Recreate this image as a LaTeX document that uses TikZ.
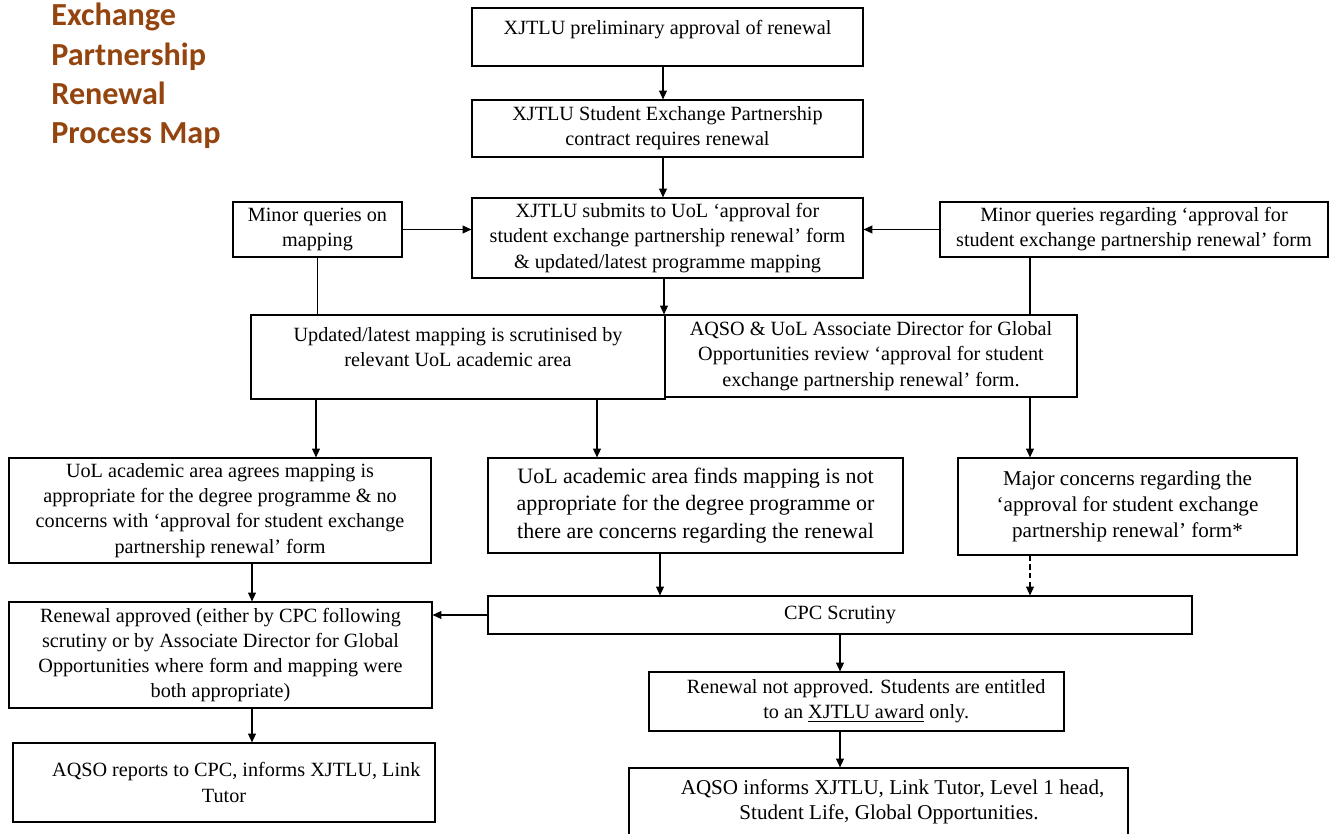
\documentclass[tikz,border=0pt]{standalone}
\usepackage{fontspec}
\setmainfont{Liberation Serif}
\newfontfamily\titlefont{Carlito}
\usetikzlibrary{arrows.meta}
\definecolor{titlebrown}{HTML}{94450F}

\begin{document}
\begin{tikzpicture}[x=0.02cm, y=-0.02cm,
    box/.style={draw, line width=0.7pt, align=center, inner sep=2pt,
        font=\fontsize{11.5}{14.3}\selectfont},
    arr/.style={-{Triangle[length=5pt, width=4.5pt]}, line width=0.6pt}]

    % Page frame (pixel units, y going down)
    \useasboundingbox (0,0) rectangle (1338,834);
    \def\padb{\rule[-11pt]{0pt}{11pt}}

    % Title
    \node[anchor=north west, inner sep=0, align=left, text=titlebrown,
        font=\titlefont\bfseries\fontsize{18.3}{22.4}\selectfont] (title) at (51,3)
        {Exchange\\ Partnership\\ Renewal\\ Process Map};

    % Top column
    \node[box, minimum width=7.82cm, minimum height=1.16cm] (prelim) at (667.5,37)
        {XJTLU preliminary approval of renewal\padb};
    \node[box, minimum width=7.82cm, minimum height=1.14cm] (contract) at (667.5,128.5)
        {XJTLU Student Exchange Partnership\\ contract requires renewal};
    \node[box, minimum width=7.82cm, minimum height=1.6cm] (submit) at (667.5,238)
        {XJTLU submits to UoL `approval for\\ student exchange partnership renewal' form\\ \& updated/latest programme mapping};

    % Queries
    \node[box, minimum width=3.38cm, minimum height=1.1cm] (minormap) at (317.5,229.5)
        {Minor queries on\\ mapping};
    \node[box, minimum width=7.76cm, minimum height=1.1cm] (minorform) at (1134,229.5)
        {Minor queries regarding `approval for\\ student exchange partnership renewal' form};

    % Scrutiny and review
    \node[box, minimum width=8.28cm, minimum height=1.68cm] (scrut) at (458,357)
        {Updated/latest mapping is scrutinised by\\ relevant UoL academic area\padb};
    \node[box, minimum width=8.24cm, minimum height=1.64cm] (review) at (871,356)
        {AQSO \& UoL Associate Director for Global\\ Opportunities review `approval for student\\ exchange partnership renewal' form.};

    % Outcomes
    \node[box, minimum width=8.44cm, minimum height=2.1cm] (agree) at (220,510.5)
        {UoL academic area agrees mapping is\\ appropriate for the degree programme \& no\\ concerns with `approval for student exchange\\ partnership renewal' form};
    \node[box, minimum width=8.3cm, minimum height=1.9cm,
        font=\fontsize{12.5}{15.6}\selectfont] (notappr) at (695.5,505.5)
        {UoL academic area finds mapping is not\\ appropriate for the degree programme or\\ there are concerns regarding the renewal};
    \node[box, minimum width=6.78cm, minimum height=1.94cm,
        font=\fontsize{12}{14.8}\selectfont] (major) at (1127.5,506.5)
        {Major concerns regarding the\\ `approval for student exchange\\ partnership renewal' form*};

    \node[box, minimum width=14.08cm, minimum height=0.76cm] (cpc) at (840,615)
        {CPC Scrutiny};
    \node[box, minimum width=8.46cm, minimum height=2.12cm] (approved) at (220.5,655)
        {Renewal approved (either by CPC following\\ scrutiny or by Associate Director for Global\\ Opportunities where form and mapping were\\ both appropriate)};
    \node[box, minimum width=8.3cm, minimum height=1.18cm] (notapproved) at (856.5,701.5)
        {\hspace*{11pt}Renewal not approved. Students are entitled\\ \hspace*{11pt}to an \underline{XJTLU award} only.};

    % Final steps
    \node[box, minimum width=8.44cm, minimum height=1.58cm] (reports) at (224,782.5)
        {\hspace*{14pt}AQSO reports to CPC, informs XJTLU, Link\\ Tutor};
    \node[box, minimum width=9.98cm, minimum height=1.36cm,
        font=\fontsize{12}{14.5}\selectfont] (informs) at (878.5,802)
        {\hspace*{16pt}AQSO informs XJTLU, Link Tutor, Level 1 head,\\ \hspace*{12pt}Student Life, Global Opportunities.};

    % Connectors
    \draw[arr] (prelim.south -| 663,0) -- (contract.north -| 663,0);
    \draw[arr] (contract.south -| 663,0) -- (submit.north -| 663,0);
    \draw[arr] (minormap.east) -- (submit.west |- minormap.east);
    \draw[arr] (minorform.west) -- (submit.east |- minorform.west);
    \draw[line width=0.6pt] (minormap.south) -- (scrut.north -| minormap.south);
    \draw[line width=0.6pt] (minorform.south -| 1030,0) -- (review.north -| 1030,0);
    \draw[arr] (submit.south -| 664,0) -- (scrut.north -| 664,0);
    \draw[arr] (scrut.south -| 316,0) -- (agree.north -| 316,0);
    \draw[arr] (scrut.south -| 597,0) -- (notappr.north -| 597,0);
    \draw[arr] (review.south -| 1030,0) -- (major.north -| 1030,0);
    \draw[arr] (agree.south -| 252,0) -- (approved.north -| 252,0);
    \draw[arr] (notappr.south -| 660,0) -- (cpc.north -| 660,0);
    \draw[arr, dash pattern=on 3pt off 2pt] (major.south -| 1030,0) -- (cpc.north -| 1030,0);
    \draw[arr] (cpc.west) -- (approved.east |- cpc.west);
    \draw[arr] (cpc.south) -- (notapproved.north -| cpc.south);
    \draw[arr] (approved.south -| 252,0) -- (reports.north -| 252,0);
    \draw[arr] (notapproved.south -| 840,0) -- (informs.north -| 840,0);

\end{tikzpicture}
\end{document}
